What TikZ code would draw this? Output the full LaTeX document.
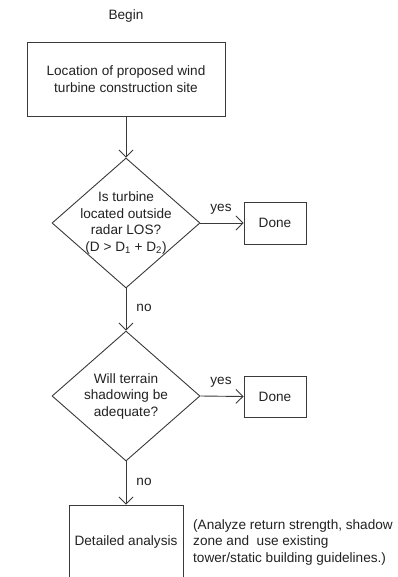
\documentclass[tikz,border=0pt]{standalone}
\usepackage{fontspec}
\setmainfont{Liberation Sans}
\usetikzlibrary{shapes.geometric,arrows.meta}
\definecolor{ink}{HTML}{222222}
\definecolor{linec}{HTML}{3A3A3A}
\begin{document}
\begin{tikzpicture}[x=1pt,y=-1pt,
  txt/.style={font=\fontsize{13.6}{16.5}\selectfont, text=ink, inner sep=0pt},
  procbox/.style={draw=linec, line width=0.9pt, inner sep=0pt},
  decis/.style={diamond, draw=linec, line width=0.9pt, inner sep=0pt, minimum width=148pt, minimum height=130pt},
  flow/.style={draw=linec, line width=0.9pt, -{Straight Barb[length=7pt,width=14pt,line width=0.9pt]}}]
\clip (0,0) rectangle (398,577);
\fill[white] (0,0) rectangle (398,577);

\node[txt] (begin) at (126,16) {Begin};

\node[procbox, minimum width=198pt, minimum height=74pt] (loc) at (126,79) {};
\node[txt, align=center] (loctxt) at (loc) {Location of proposed wind\\turbine construction site};

\node[decis] (d1) at (126,223) {};
\node[txt, align=center] (d1txt) at (126,223) {Is turbine\\located outside\\radar LOS?\\(D > D\textsubscript{1} + D\textsubscript{2})};

\node[procbox, minimum width=62pt, minimum height=42pt] (done1) at (275,223) {};
\node[txt] (done1txt) at (done1) {Done};

\node[decis] (d2) at (126,396) {};
\node[txt, align=center] (d2txt) at (126,396) {Will terrain\\shadowing be\\adequate?};

\node[procbox, minimum width=62pt, minimum height=41pt] (done2) at (275,396.5) {};
\node[txt] (done2txt) at (done2) {Done};

\node[procbox, minimum width=114pt, minimum height=76pt] (det) at (126,543) {};
\node[txt] (dettxt) at (126,542) {Detailed analysis};

\node[txt, align=left, anchor=west] (note) at (193,542) {(Analyze return strength, shadow\\zone and \ use existing\\tower/static building guidelines.)};

\draw[flow] (loc.south) -- (d1.north);
\draw[flow] (d1.east) -- (done1.west);
\draw[flow] (d1.south) -- (d2.north);
\draw[flow] (d2.east) -- (done2.west);
\draw[flow] (d2.south) -- (det.north);

\node[txt] (yes1) at (221,209) {yes};
\node[txt] (no1) at (144,308) {no};
\node[txt] (yes2) at (221,382) {yes};
\node[txt] (no2) at (144,482) {no};
\end{tikzpicture}
\end{document}
